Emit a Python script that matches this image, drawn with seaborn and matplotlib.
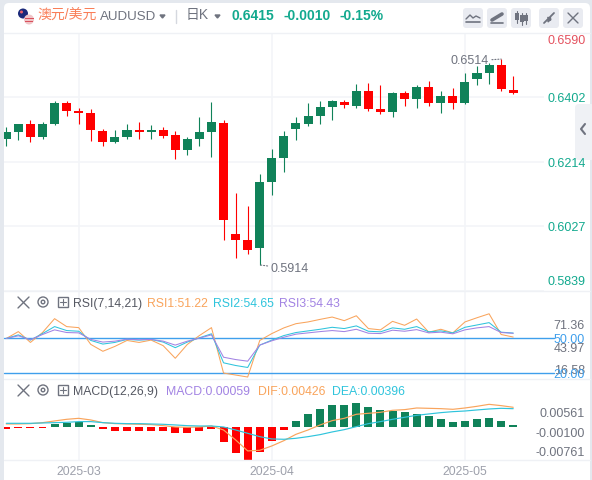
import numpy as np
import pandas as pd
import matplotlib
matplotlib.use('Agg')
import matplotlib.pyplot as plt
from matplotlib.patches import FancyBboxPatch, Rectangle, Circle
import seaborn as sns

# daily candles
opens = [.6280,.6300,.6324,.6286,.6326,.6387,.6364,.6358,.6303,.6271,.6286,.6306,.6300,.6306,.6292,.6248,.6280,.6300,.6329,.6004,.5986,.5963,.6155,.6225,
         .6309,.6326,.6347,.6373,.6390,.6376,.6420,.6367,.6361,.6414,.6399,.6434,.6385,.6405,.6385,.6457,.6472,.6498,.6425]
closes = [.6300,.6324,.6286,.6326,.6387,.6364,.6358,.6306,.6271,.6286,.6306,.6300,.6306,.6289,.6248,.6280,.6300,.6332,.6044,.5986,.5957,.6155,.6225,.6289,
          .6329,.6347,.6373,.6393,.6379,.6420,.6367,.6361,.6414,.6399,.6434,.6387,.6405,.6385,.6446,.6472,.6498,.6428,.6415]
highs = [.6315,.6324,.6335,.6332,.6393,.6393,.6370,.6367,.6309,.6306,.6326,.6332,.6321,.6315,.6303,.6286,.6344,.6390,.6335,.6123,.6085,.6178,.6251,.6303,
         .6344,.6385,.6393,.6396,.6396,.6440,.6443,.6437,.6417,.6422,.6437,.6451,.6420,.6431,.6472,.6495,.6504,.6514,.6466]
lows = [.6260,.6277,.6271,.6280,.6321,.6347,.6324,.6274,.6260,.6268,.6280,.6280,.6280,.6283,.6222,.6233,.6260,.6228,.5986,.5934,.5946,.5914,.6117,.6184,
        .6277,.6318,.6324,.6335,.6370,.6370,.6364,.6353,.6344,.6376,.6370,.6376,.6358,.6367,.6382,.6437,.6440,.6422,.6411]

rsi1 = [50.0,55.9,46.6,55.1,67.0,60.2,59.3,44.9,39.0,43.2,48.3,46.6,48.6,43.8,33.0,44.9,52.5,59.3,20.3,18.6,16.9,48.3,54.2,59.1,
        62.7,64.2,66.4,68.4,65.3,69.5,58.5,57.4,64.7,61.3,66.7,55.4,57.9,54.8,64.2,67.8,71.2,53.4,51.22]
rsi2 = [50.0,53.1,48.6,54.2,60.2,56.8,56.2,48.3,45.2,46.6,49.2,48.6,49.2,46.9,42.1,46.9,50.6,54.0,29.1,26.8,25.1,44.3,48.6,52.5,
        55.1,56.5,57.9,59.6,58.5,60.8,56.2,55.7,59.1,57.9,60.2,55.7,56.5,54.8,59.6,61.6,63.6,55.4,54.65]
rsi3 = [50.0,52.3,48.9,53.4,57.4,55.1,54.8,49.2,46.9,47.7,49.4,48.9,49.2,47.7,44.3,47.7,50.3,53.1,33.9,31.9,30.5,44.3,48.0,51.1,
        53.7,54.8,55.9,56.8,55.9,57.9,54.5,54.2,57.1,56.2,57.6,54.8,55.4,54.0,57.4,59.1,60.2,55.1,54.43]

macd_hist = [-.00028,-.00021,-.00021,-.00014,.00071,.00092,.00113,.00050,-.00035,-.00078,-.00078,-.00078,-.00071,-.00078,-.00121,-.00121,-.00078,-.00028,
             -.00312,-.00546,-.00695,-.00525,-.00291,-.00057,.00135,.00284,.00390,.00475,.00475,.00518,.00433,.00369,.00348,.00326,.00284,.00241,.00177,.00113,
             .00135,.00177,.00199,.00135,.00059]
dif = [.00071,.00071,.00078,.00099,.00135,.00170,.00191,.00156,.00099,.00078,.00071,.00064,.00057,.00035,.00007,0,.00007,.00028,-.00057,-.00269,-.00503,-.00489,
       -.00397,-.00284,-.00149,-.00057,.00050,.00142,.00191,.00277,.00298,.00319,.00362,.00376,.00411,.00404,.00397,.00383,.00411,.00447,.00489,.00461,.00426]
dea = [.00085,.00085,.00085,.00092,.00099,.00106,.00121,.00121,.00099,.00085,.00078,.00078,.00071,.00064,.00050,.00035,.00028,.00028,.00007,-.00057,-.00128,-.00199,
       -.00248,-.00255,-.00234,-.00199,-.00156,-.00099,-.00050,.00014,.00078,.00121,.00170,.00213,.00255,.00284,.00312,.00333,.00347,.00369,.00390,.00404,.00396]

date_ticks = [6, 22, 38]
date_labels = ['2025-03', '2025-04', '2025-05']
price_ticks = [.6590, .6402, .6214, .6027, .5839]

RED = '#ff0000'
GREEN = '#108259'
TEAL = '#12a98e'
GRAY = '#6f737f'
GRID = '#f3f5f8'
ORANGE = '#f9a45c'
CYAN = '#2fc4dc'
PURPLE = '#a283e3'
BLUE = '#3f9fec'
W, H = 592, 480

sns.set_theme(style='white')
plt.rcParams['font.family'] = ['Liberation Sans', 'Noto Sans CJK SC', 'DejaVu Sans']

fig = plt.figure(figsize=(W / 100, H / 100), dpi=100, facecolor='#e4e8ee')


def panel(top, bottom):
    return fig.add_axes([4 / W, 1 - bottom / H, 540 / W, (bottom - top) / H], facecolor='none')


card = fig.add_axes([0, 0, 1, 1], zorder=0)
card.set_xlim(0, W)
card.set_ylim(H, 0)
card.axis('off')
card.add_patch(FancyBboxPatch((4, 3), 586, 500, boxstyle='round,pad=0,rounding_size=5', fc='white', ec='none'))

ax = panel(33, 292)
ax_rsi = panel(292, 379)
ax_macd = panel(379, 460)
for a in (ax, ax_rsi, ax_macd):
    a.set_zorder(2)
    a.set_facecolor('none')

idx = np.arange(len(opens))

# candles
for i in idx:
    c = GREEN if closes[i] >= opens[i] else RED
    ax.vlines(i, lows[i], highs[i], color=c, linewidth=.8, zorder=3)
    ax.bar(i, abs(closes[i] - opens[i]), bottom=min(opens[i], closes[i]), width=.75, color=c, linewidth=0, zorder=4)
ax.set_ylim(.5835, .6588)
ax.set_yticks(price_ticks)

imax = int(np.argmax(highs))
imin = int(np.argmin(lows))
ax.annotate('0.6514', xy=(imax, highs[imax]), xytext=(-9, -1.5), textcoords='offset points', ha='right', va='center',
            fontsize=9, color=GRAY, arrowprops=dict(arrowstyle='-', color=GRAY, lw=.8, ls=':', shrinkA=0, shrinkB=0))
ax.annotate('0.5914', xy=(imin, lows[imin]), xytext=(8, -3), textcoords='offset points', ha='left', va='center',
            fontsize=9, color=GRAY, arrowprops=dict(arrowstyle='-', color=GRAY, lw=.8, ls=':', shrinkA=0, shrinkB=0))

# rsi
for vals, c in ((rsi1, ORANGE), (rsi2, CYAN), (rsi3, PURPLE)):
    sns.lineplot(x=idx, y=vals, color=c, linewidth=.75, ax=ax_rsi, estimator=None, zorder=3)
for lev in (50, 20):
    ax_rsi.axhline(lev, xmax=550 / 540, color=BLUE, linewidth=1, clip_on=False, zorder=2)
ax_rsi.set_ylim(15.2, 89.9)

# macd
macd_df = pd.DataFrame({'i': idx, 'v': macd_hist, 'side': ['up' if v > 0 else 'down' for v in macd_hist]})
sns.barplot(data=macd_df, x='i', y='v', hue='side', palette={'up': GREEN, 'down': RED}, native_scale=True, dodge=False,
            width=.66, saturation=1, errorbar=None, legend=False, linewidth=0, ax=ax_macd, zorder=3)
sns.lineplot(x=idx, y=dif, color=ORANGE, linewidth=.85, ax=ax_macd, estimator=None, zorder=4)
sns.lineplot(x=idx, y=dea, color=CYAN, linewidth=.85, ax=ax_macd, estimator=None, zorder=4)
ax_macd.set_ylim(-.00696, .01028)

for a in (ax, ax_rsi, ax_macd):
    a.set_xlim(-.19, 44.55)
    a.set_xticks(date_ticks)
    a.set_xticklabels([])
    a.grid(True, axis='x', color=GRID, linewidth=1.2)
    a.grid(a is ax, axis='y', color=GRID, linewidth=1.2)
    a.set_axisbelow(True)
    if a is not ax:
        a.set_yticks([])
    a.set_yticklabels([])
    a.set_xlabel('')
    a.set_ylabel('')
    a.tick_params(length=0)
    sns.despine(ax=a, left=True, bottom=True)
ax_macd.set_xticklabels(date_labels, fontsize=8.8, color='#9da0ab')
ax_macd.tick_params(axis='x', pad=4)

# everything around the chart
top = fig.add_axes([0, 0, 1, 1], zorder=5, facecolor='none')
top.set_xlim(0, W)
top.set_ylim(H, 0)
top.axis('off')

for y in (33, 291, 379, 460):
    top.plot([4, 590], [y, y], color='#eff1f5', linewidth=1, zorder=1)


def txt(x, y, s, c=GRAY, size=8.8, ha='left', **kw):
    top.text(x, y + 1, s, color=c, fontsize=size, ha=ha, va='center', **kw)


# flag icon
top.add_patch(Circle((23, 13.5), 5, fc='#1c2a7a', ec='none'))
top.add_patch(Circle((21.5, 12), 1.5, fc='#e9606a', ec='none'))
top.add_patch(Circle((29, 19.5), 5, fc='#f0c5c8', ec='none'))
top.add_patch(Rectangle((24.5, 18), 9, 1, fc='#d9505c', ec='none'))
top.add_patch(Rectangle((25, 21), 8, 1, fc='#d9505c', ec='none'))

txt(37.5, 14.5, '澳元/美元', '#f97e58', 10)
txt(100, 16, 'AUDUSD', GRAY, 9.6)
top.fill([160, 165, 162.5], [15, 15, 18], color=GRAY)
top.plot([176, 176], [10, 23], color='#d5d8df', linewidth=1)
txt(186, 14.5, '日K', GRAY, 10)
top.fill([215, 220, 217.5], [15, 15, 18], color=GRAY)
txt(231, 14.5, '0.6415', TEAL, 10, fontweight='bold')
txt(283, 14.5, '-0.0010', TEAL, 10, fontweight='bold')
txt(340, 14.5, '-0.15%', TEAL, 10, fontweight='bold')

# toolbar buttons
for x0 in (463, 487, 511, 539, 563):
    top.add_patch(FancyBboxPatch((x0, 8), 20, 20, boxstyle='round,pad=0,rounding_size=3', fc='#e9ebf1', ec='none'))
top.plot([466, 470, 473, 476, 480], [19, 15, 18, 16, 18], color=GRAY, linewidth=1)
top.plot([466, 480], [22, 22], color=GRAY, linewidth=1.2)
top.plot([492, 502], [20, 14], color=GRAY, linewidth=2.6)
top.plot([491, 503], [23, 23], color=GRAY, linewidth=1.2)
for x0, y0, y1 in ((517, 13, 21), (522, 15, 23), (526, 15, 22)):
    top.plot([x0, x0], [y0 - 2, y1 + 2], color=GRAY, linewidth=.8)
    top.add_patch(Rectangle((x0 - 2, y0), 4, y1 - y0 - 1, fc=GRAY, ec='none'))
top.plot([544, 548], [23, 19], color=GRAY, linewidth=1.3)
top.plot([550, 554], [17, 13], color=GRAY, linewidth=1.3)
top.fill([547, 550, 550], [17, 17, 20], color=GRAY)
top.fill([548, 551, 548], [19, 19, 22], color=GRAY)
top.plot([568, 578], [13, 23], color=GRAY, linewidth=1)
top.plot([578, 568], [13, 23], color=GRAY, linewidth=1)

# collapse tab on the right
top.add_patch(FancyBboxPatch((575, 104), 20, 56, boxstyle='round,pad=0,rounding_size=4', fc='#eff1f5', ec='none'))
top.plot([585, 581, 585], [124, 129, 134], color=GRAY, linewidth=1.5)

# price labels, squeezed in at both ends like the original
for y, s, c in ((40, '0.6590', '#e4515e'), (98, '0.6402', TEAL), (163, '0.6214', TEAL), (227, '0.6027', TEAL), (281, '0.5839', TEAL)):
    txt(548, y, s, c, 9)

# indicator headers
for yy in (302, 390):
    top.plot([18, 29], [yy - 5, yy + 6], color=GRAY, linewidth=1)
    top.plot([29, 18], [yy - 5, yy + 6], color=GRAY, linewidth=1)
    top.add_patch(Circle((43, yy), 5, fc='none', ec=GRAY, linewidth=1))
    top.add_patch(Circle((43, yy), 1.8, fc='none', ec=GRAY, linewidth=1))
    top.add_patch(Rectangle((58, yy - 5), 10, 10, fc='none', ec=GRAY, linewidth=1))
    top.plot([60, 66], [yy, yy], color=GRAY, linewidth=.8)
    top.plot([63, 63], [yy - 3, yy + 3], color=GRAY, linewidth=.8)

txt(72.5, 303, 'RSI(7,14,21)', '#555862')
txt(146.5, 303, 'RSI1:51.22', ORANGE)
txt(213, 303, 'RSI2:54.65', CYAN)
txt(279.5, 303, 'RSI3:54.43', PURPLE)
txt(72.5, 391, 'MACD(12,26,9)', '#555862')
txt(166, 391, 'MACD:0.00059', PURPLE)
txt(258, 391, 'DIF:0.00426', ORANGE)
txt(332, 391, 'DEA:0.00396', CYAN)

# indicator axis labels
txt(585, 325, '71.36', GRAY, 9, ha='right')
txt(585, 348, '43.97', GRAY, 9, ha='right')
txt(585, 370.5, '16.58', GRAY, 9, ha='right')
txt(585, 339, '50.00', BLUE, 9, ha='right')
txt(585, 374, '20.00', BLUE, 9, ha='right')
txt(585, 413, '0.00561', GRAY, 9, ha='right')
txt(585, 433, '-0.00100', GRAY, 9, ha='right')
txt(585, 452, '-0.00761', GRAY, 9, ha='right')

fig.savefig('out.png', dpi=100, facecolor=fig.get_facecolor())
